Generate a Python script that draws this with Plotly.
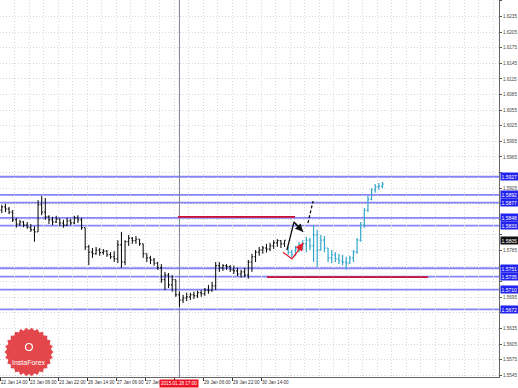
import numpy as np
import plotly.graph_objects as go

# ---------------- data ----------------
# time axis: hours since 22 Jan 14:00 (2-hour bars)
black_hours = list(range(1, 158, 2))
black_open = [1.5863, 1.5869, 1.5865, 1.5859, 1.5844, 1.5836, 1.5840, 1.5834, 1.5830, 1.5825,
              1.5821, 1.5873, 1.5859, 1.5850, 1.5844, 1.5840, 1.5846, 1.5838, 1.5834, 1.5842,
              1.5838, 1.5848, 1.5844, 1.5829, 1.5792, 1.5782, 1.5779, 1.5786, 1.5781, 1.5784,
              1.5777, 1.5773, 1.5769, 1.5796, 1.5763, 1.5802, 1.5809, 1.5804, 1.5807, 1.5798,
              1.5779, 1.5771, 1.5767, 1.5761, 1.5752, 1.5729, 1.5738, 1.5719, 1.5729, 1.5700,
              1.5690, 1.5694, 1.5696, 1.5700, 1.5698, 1.5704, 1.5702, 1.5709, 1.5708, 1.5717,
              1.5756, 1.5752, 1.5756, 1.5754, 1.5748, 1.5746, 1.5740, 1.5744, 1.5738, 1.5763,
              1.5773, 1.5782, 1.5786, 1.5790, 1.5788, 1.5794, 1.5800, 1.5804, 1.5798]
black_high = [1.5873, 1.5875, 1.5869, 1.5863, 1.5848, 1.5844, 1.5842, 1.5840, 1.5836, 1.5832,
              1.5882, 1.5890, 1.5886, 1.5853, 1.5850, 1.5852, 1.5846, 1.5844, 1.5848, 1.5846,
              1.5852, 1.5853, 1.5848, 1.5829, 1.5796, 1.5790, 1.5792, 1.5790, 1.5788, 1.5786,
              1.5782, 1.5784, 1.5805, 1.5821, 1.5805, 1.5815, 1.5811, 1.5813, 1.5807, 1.5798,
              1.5779, 1.5775, 1.5771, 1.5763, 1.5759, 1.5744, 1.5742, 1.5738, 1.5729, 1.5706,
              1.5700, 1.5704, 1.5704, 1.5706, 1.5708, 1.5709, 1.5713, 1.5719, 1.5725, 1.5763,
              1.5763, 1.5759, 1.5759, 1.5757, 1.5756, 1.5752, 1.5748, 1.5752, 1.5767, 1.5779,
              1.5786, 1.5792, 1.5794, 1.5798, 1.5800, 1.5805, 1.5807, 1.5805, 1.5805]
black_low = [1.5857, 1.5859, 1.5855, 1.5840, 1.5829, 1.5832, 1.5830, 1.5827, 1.5821, 1.5802,
             1.5821, 1.5853, 1.5844, 1.5836, 1.5834, 1.5838, 1.5832, 1.5829, 1.5832, 1.5834,
             1.5836, 1.5838, 1.5825, 1.5786, 1.5757, 1.5771, 1.5777, 1.5775, 1.5777, 1.5773,
             1.5769, 1.5763, 1.5761, 1.5752, 1.5757, 1.5794, 1.5798, 1.5798, 1.5794, 1.5771,
             1.5763, 1.5759, 1.5756, 1.5748, 1.5723, 1.5709, 1.5713, 1.5706, 1.5696, 1.5677,
             1.5684, 1.5688, 1.5690, 1.5692, 1.5694, 1.5696, 1.5698, 1.5702, 1.5706, 1.5709,
             1.5744, 1.5746, 1.5748, 1.5744, 1.5740, 1.5736, 1.5733, 1.5734, 1.5731, 1.5744,
             1.5763, 1.5775, 1.5779, 1.5781, 1.5784, 1.5788, 1.5792, 1.5790, 1.5792]
black_close = [1.5869, 1.5865, 1.5859, 1.5844, 1.5836, 1.5840, 1.5834, 1.5830, 1.5825, 1.5821,
               1.5873, 1.5859, 1.5850, 1.5844, 1.5840, 1.5846, 1.5838, 1.5834, 1.5842, 1.5838,
               1.5848, 1.5844, 1.5829, 1.5792, 1.5782, 1.5779, 1.5786, 1.5781, 1.5784, 1.5777,
               1.5773, 1.5769, 1.5796, 1.5763, 1.5802, 1.5809, 1.5804, 1.5807, 1.5798, 1.5779,
               1.5771, 1.5767, 1.5761, 1.5752, 1.5729, 1.5738, 1.5719, 1.5729, 1.5700, 1.5690,
               1.5694, 1.5696, 1.5700, 1.5698, 1.5704, 1.5702, 1.5709, 1.5708, 1.5717, 1.5756,
               1.5752, 1.5756, 1.5754, 1.5748, 1.5746, 1.5740, 1.5744, 1.5738, 1.5763, 1.5773,
               1.5782, 1.5786, 1.5790, 1.5788, 1.5794, 1.5800, 1.5804, 1.5798, 1.5805]

fc_hours = list(range(159, 212, 2))
fc_open = [1.5792, 1.5782, 1.5777, 1.5788, 1.5796, 1.5798, 1.5805, 1.5794, 1.5815, 1.5786,
           1.5805, 1.5790, 1.5771, 1.5777, 1.5769, 1.5765, 1.5763, 1.5761, 1.5771, 1.5782,
           1.5805, 1.5834, 1.5863, 1.5884, 1.5902, 1.5907, 1.5909]
fc_high = [1.5792, 1.5786, 1.5794, 1.5802, 1.5805, 1.5811, 1.5809, 1.5834, 1.5825, 1.5815,
           1.5813, 1.5790, 1.5786, 1.5782, 1.5779, 1.5777, 1.5773, 1.5775, 1.5786, 1.5809,
           1.5840, 1.5867, 1.5890, 1.5905, 1.5913, 1.5915, 1.5917]
fc_low = [1.5777, 1.5771, 1.5775, 1.5782, 1.5786, 1.5782, 1.5786, 1.5763, 1.5754, 1.5786,
          1.5782, 1.5763, 1.5761, 1.5763, 1.5759, 1.5757, 1.5748, 1.5759, 1.5763, 1.5779,
          1.5802, 1.5829, 1.5859, 1.5882, 1.5896, 1.5902, 1.5905]
fc_close = [1.5782, 1.5777, 1.5788, 1.5796, 1.5798, 1.5805, 1.5794, 1.5815, 1.5786, 1.5805,
            1.5790, 1.5771, 1.5777, 1.5769, 1.5765, 1.5763, 1.5761, 1.5771, 1.5782, 1.5805,
            1.5834, 1.5863, 1.5884, 1.5902, 1.5907, 1.5909, 1.5913]

levels = [1.5927, 1.5892, 1.5877, 1.5848, 1.5833, 1.5751, 1.5735, 1.5710, 1.5672]
current_price = 1.5805
red_x0 = [98.2, 147.3]
red_x1 = [162.8, 236.1]
red_y = [1.5850, 1.5734]

red_path_x = [156.1, 161.1, 163.9, 167.2]
red_path_y = [1.5782, 1.5769, 1.5782, 1.5800]
blk_path_x = [158.3, 162.2, 167.2]
blk_path_y = [1.5786, 1.5840, 1.5821]
dash_path_x = [169.9, 172.7]
dash_path_y = [1.5838, 1.5880]

marker_hour = 99
marker_label = "2015.01.28 17:00"

x_tickvals = [0, 16, 32, 48, 64, 80, 96, 112, 128, 144]
x_ticktext = ["22 Jan 14:00", "23 Jan 06:00", "23 Jan 22:00", "26 Jan 14:00", "27 Jan 06:00",
              "27 Jan 22:00", "", "29 Jan 06:00", "29 Jan 22:00", "30 Jan 14:00"]
y_tickvals = [1.5545, 1.5575, 1.5605, 1.5635, 1.5665, 1.5695, 1.5725, 1.5755, 1.5785, 1.5815,
              1.5845, 1.5875, 1.5905, 1.5935, 1.5965, 1.5995, 1.6025, 1.6055, 1.6085, 1.6115,
              1.6145, 1.6175, 1.6205, 1.6235, 1.6265]

# tick labels hidden behind the price boxes are left blank
boxed = levels + [current_price]
y_ticktext = ["" if min(abs(v - b) for b in boxed) < 0.0011 else f"{v:.4f}" for v in y_tickvals]

FONT = "Liberation Sans"

# ---------------- figure ----------------
fig = go.Figure()
fig.add_trace(go.Ohlc(x=black_hours, open=black_open, high=black_high, low=black_low, close=black_close,
                      increasing=dict(line=dict(color="black", width=1)),
                      decreasing=dict(line=dict(color="black", width=1)), tickwidth=0.35,
                      hoverinfo="skip"))
fig.add_trace(go.Ohlc(x=fc_hours, open=fc_open, high=fc_high, low=fc_low, close=fc_close,
                      increasing=dict(line=dict(color="#35a7cc", width=1.2)),
                      decreasing=dict(line=dict(color="#35a7cc", width=1.2)), tickwidth=0.35,
                      hoverinfo="skip"))

fig.add_trace(go.Scatter(x=red_path_x, y=red_path_y, mode="lines",
                         line=dict(color="#e8202a", width=1.3), hoverinfo="skip"))
fig.add_trace(go.Scatter(x=blk_path_x, y=blk_path_y, mode="lines",
                         line=dict(color="#111111", width=1.3), hoverinfo="skip"))
fig.add_trace(go.Scatter(x=dash_path_x, y=dash_path_y, mode="lines",
                         line=dict(color="#111111", width=1.3, dash="3px,2px"), hoverinfo="skip"))

shapes = []
for lv in levels:
    shapes.append(dict(type="line", xref="paper", x0=0, x1=1, yref="y", y0=lv, y1=lv,
                       line=dict(color="#8585f5", width=1.8), layer="below"))
for a, b, c in zip(red_x0, red_x1, red_y):
    shapes.append(dict(type="line", xref="x", x0=a, x1=b, yref="y", y0=c, y1=c,
                       line=dict(color="#cc1133", width=1.8)))
shapes.append(dict(type="line", xref="x", x0=marker_hour, x1=marker_hour, yref="paper", y0=0, y1=1,
                   line=dict(color="#7d8290", width=1), layer="below"))

# InstaForex logo (decoration)
W, H = 499.0, 377.0
cx, cy, ro, ri, n = 29.0, 352.0, 24.5, 22.0, 26
ang = np.linspace(0, 2 * np.pi, 2 * n, endpoint=False)
rr = np.where(np.arange(2 * n) % 2 == 0, ro, ri)
px = cx + rr * np.cos(ang)
py = cy + rr * np.sin(ang)
path = "M " + " L ".join(f"{x / W:.5f},{1 - y / H:.5f}" for x, y in zip(px, py)) + " Z"
shapes.append(dict(type="path", xref="paper", yref="paper", path=path,
                   fillcolor="#e4474b", line=dict(width=0)))
shapes.append(dict(type="circle", xref="paper", yref="paper",
                   x0=(cx - 3.5) / W, x1=(cx + 3.5) / W, y0=1 - (cy - 1.5) / H, y1=1 - (cy - 8.5) / H,
                   line=dict(color="white", width=1.2)))

annotations = []
for lv in levels:
    annotations.append(dict(xref="paper", x=1, xanchor="left", xshift=1, yref="y", y=lv,
                            text=f"{lv:.4f}", showarrow=False, bgcolor="#2323f0",
                            font=dict(color="white", size=5, family=FONT), borderpad=0.5))
annotations.append(dict(xref="paper", x=1, xanchor="left", xshift=1, yref="y", y=current_price,
                        text=f"{current_price:.4f}", showarrow=False, bgcolor="#111111",
                        font=dict(color="white", size=5, family=FONT), borderpad=0.5))
annotations.append(dict(xref="x", x=marker_hour, xanchor="center", yref="paper", y=0, yanchor="top",
                        yshift=-2, text=marker_label, showarrow=False, bgcolor="#ee1122",
                        font=dict(color="white", size=4.6, family=FONT), borderpad=1))
# arrowheads
annotations.append(dict(xref="x", yref="y", x=red_path_x[-1], y=red_path_y[-1], axref="x", ayref="y",
                        ax=red_path_x[-2], ay=red_path_y[-2], showarrow=True, arrowhead=2,
                        arrowsize=1.3, arrowwidth=1.2, arrowcolor="#e8202a", text=""))
annotations.append(dict(xref="x", yref="y", x=blk_path_x[-1], y=blk_path_y[-1], axref="x", ayref="y",
                        ax=blk_path_x[-2], ay=blk_path_y[-2], showarrow=True, arrowhead=2,
                        arrowsize=1.3, arrowwidth=1.2, arrowcolor="#111111", text=""))
annotations.append(dict(xref="x", yref="y", x=dash_path_x[-1], y=dash_path_y[-1], axref="x", ayref="y",
                        ax=dash_path_x[-1] - 0.8, ay=dash_path_y[-1] - 0.0006, showarrow=True,
                        arrowhead=2, arrowsize=1.3, arrowwidth=1.2, arrowcolor="#111111", text=""))
annotations.append(dict(xref="paper", yref="paper", x=cx / W, y=1 - 362 / H, text="InstaForex",
                        showarrow=False, xanchor="center", yanchor="middle",
                        font=dict(color="white", size=7, family=FONT)))

fig.update_layout(
    width=518, height=388, margin=dict(l=0, r=19, t=0, b=11, autoexpand=False),
    paper_bgcolor="white", plot_bgcolor="white", showlegend=False,
    shapes=shapes, annotations=annotations,
    xaxis=dict(range=[0, 275.3], tickvals=x_tickvals, ticktext=x_ticktext, ticks="outside",
               ticklen=3, tickcolor="#333", ticklabelposition="outside right", tickangle=0,
               tickfont=dict(size=4.6, color="#333", family=FONT), automargin=False,
               showline=True, linecolor="#666", linewidth=1, showgrid=False, zeroline=False,
               rangeslider=dict(visible=False),
               minor=dict(dtick=8, tick0=0, showgrid=True, gridcolor="#d9d9d9", griddash="1px,2px",
                          gridwidth=1)),
    yaxis=dict(side="right", range=[1.55419, 1.62669], tickvals=y_tickvals, ticktext=y_ticktext,
               ticks="outside", ticklen=2, tickcolor="#555", automargin=False,
               tickfont=dict(size=4.6, color="#444", family=FONT),
               showline=True, linecolor="#666", linewidth=1, showgrid=True, gridcolor="#d9d9d9",
               griddash="1px,2px", gridwidth=1, zeroline=False),
)

fig.write_html("out.html")
